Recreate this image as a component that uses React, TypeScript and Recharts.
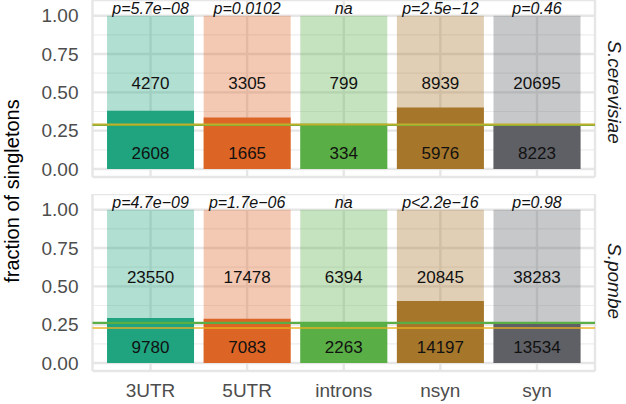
import React from 'react';
import {
  BarChart,
  Bar,
  Cell,
  XAxis,
  YAxis,
  CartesianGrid,
  ReferenceLine,
  LabelList,
} from 'recharts';

const categories = ['3UTR', '5UTR', 'introns', 'nsyn', 'syn'];
const darkColors = ['#1fa47f', '#dc6424', '#5aae46', '#a6762a', '#5f6065'];

// S.cerevisiae
const cerSingletons = [2608, 1665, 334, 5976, 8223];
const cerOthers = [4270, 3305, 799, 8939, 20695];
const cerFraction = [0.379, 0.335, 0.295, 0.401, 0.284];
const cerPvalues = ['p=5.7e\u221208', 'p=0.0102', 'na', 'p=2.5e\u221212', 'p=0.46'];

// S.pombe
const pomSingletons = [9780, 7083, 2263, 14197, 13534];
const pomOthers = [23550, 17478, 6394, 20845, 38283];
const pomFraction = [0.293, 0.288, 0.261, 0.405, 0.261];
const pomPvalues = ['p=4.7e\u221209', 'p=1.7e\u221206', 'na', 'p<2.2e\u221216', 'p=0.98'];

// horizontal reference levels [cerevisiae, pombe]
const greenLevels = [0.287, 0.262];
const goldLevels = [0.29, 0.228];

const yTicks = [0, 0.25, 0.5, 0.75, 1];
const minorTicks = [0.125, 0.375, 0.625, 0.875];

const makeRows = (single: number[], other: number[], frac: number[], p: string[]) =>
  categories.map((cat, i) => ({
    cat,
    single: single[i],
    other: other[i],
    frac: frac[i],
    full: 1,
    p: p[i],
  }));

const cerRows = makeRows(cerSingletons, cerOthers, cerFraction, cerPvalues);
const pomRows = makeRows(pomSingletons, pomOthers, pomFraction, pomPvalues);

// label centred at a given value inside the 0..1 bar
const levelLabel = (level: number) => (props: any) => {
  const vb = props.viewBox ?? props;
  const { x, y, width, height } = vb;
  return (
    <text
      x={x + width / 2}
      y={y + height * (1 - level)}
      textAnchor="middle"
      dominantBaseline="central"
      fontSize={17}
      fill="#111"
    >
      {props.value}
    </text>
  );
};

// p-value sitting just on top of the bar
const pLabel = (props: any) => {
  const vb = props.viewBox ?? props;
  const { x, y, width } = vb;
  return (
    <text
      x={x + width / 2}
      y={y - 1.5}
      textAnchor="middle"
      fontSize={16}
      fontStyle="italic"
      fill="#111"
    >
      {props.value}
    </text>
  );
};

interface PanelProps {
  rows: any[];
  green: number;
  gold: number;
  showX: boolean;
}

function Panel({ rows, green, gold, showX }: PanelProps) {
  return (
    <BarChart
      width={626}
      height={showX ? 207 : 190}
      data={rows}
      margin={{ top: 0, right: 31, bottom: showX ? 0 : 13, left: 0 }}
      barCategoryGap="5%"
    >
      <CartesianGrid
        xAxisId="a"
        vertical={false}
        horizontalValues={minorTicks}
        stroke="#eeeeee"
        strokeWidth={1.2}
      />
      <CartesianGrid xAxisId="a" stroke="#e6e6e6" strokeWidth={2.4} />
      <XAxis
        xAxisId="a"
        dataKey="cat"
        hide={!showX}
        axisLine={false}
        tickLine={false}
        tickMargin={7}
        height={30}
        padding={{ left: 9.7, right: 9.7 }}
        tick={{ fontSize: 19, fill: '#4d4d4d' }}
      />
      <XAxis xAxisId="b" dataKey="cat" hide padding={{ left: 9.7, right: 9.7 }} />
      <XAxis xAxisId="c" dataKey="cat" hide padding={{ left: 9.7, right: 9.7 }} />
      <YAxis
        type="number"
        domain={[-0.0525, 1.1025]}
        allowDataOverflow
        ticks={yTicks}
        interval={0}
        tickFormatter={(v: number) => v.toFixed(2)}
        axisLine={false}
        tickLine={false}
        tickMargin={8}
        width={92.5}
        tick={{ fontSize: 19, fill: '#4d4d4d' }}
      />
      <Bar xAxisId="a" dataKey="full" isAnimationActive={false}>
        {rows.map((r, i) => (
          <Cell key={r.cat} fill={darkColors[i]} fillOpacity={0.35} />
        ))}
      </Bar>
      <Bar xAxisId="b" dataKey="frac" isAnimationActive={false}>
        {rows.map((r, i) => (
          <Cell key={r.cat} fill={darkColors[i]} />
        ))}
      </Bar>
      <Bar xAxisId="c" dataKey="full" fill="none" fillOpacity={0} isAnimationActive={false}>
        <LabelList dataKey="other" content={levelLabel(0.555)} />
        <LabelList dataKey="single" content={levelLabel(0.1)} />
        <LabelList dataKey="p" content={pLabel} />
      </Bar>
      <ReferenceLine xAxisId="a" y={green} stroke="#5aae46" strokeWidth={2.2} />
      <ReferenceLine xAxisId="a" y={gold} stroke="#e8b020" strokeOpacity={0.7} strokeWidth={2.2} />
    </BarChart>
  );
}

export default function App() {
  return (
    <div
      style={{
        position: 'absolute',
        left: 0,
        top: 0,
        width: 626,
        height: 404,
        background: '#fff',
        fontFamily: '"Liberation Sans", Arial, sans-serif',
        overflow: 'hidden',
      }}
    >
      <div style={{ position: 'absolute', left: 0, top: 0 }}>
        <Panel rows={cerRows} green={greenLevels[0]} gold={goldLevels[0]} showX={false} />
      </div>
      <div style={{ position: 'absolute', left: 0, top: 194 }}>
        <Panel rows={pomRows} green={greenLevels[1]} gold={goldLevels[1]} showX />
      </div>
      <svg
        width={626}
        height={404}
        style={{ position: 'absolute', left: 0, top: 0, pointerEvents: 'none' }}
      >
        <text
          transform="translate(12,191) rotate(-90)"
          textAnchor="middle"
          dominantBaseline="central"
          fontSize={20}
          fill="#000"
        >
          fraction of singletons
        </text>
        <text
          transform="translate(614,92) rotate(90)"
          textAnchor="middle"
          dominantBaseline="central"
          fontSize={19}
          fontStyle="italic"
          fill="#1a1a1a"
        >
          S.cerevisiae
        </text>
        <text
          transform="translate(614,281) rotate(90)"
          textAnchor="middle"
          dominantBaseline="central"
          fontSize={19}
          fontStyle="italic"
          fill="#1a1a1a"
        >
          S.pombe
        </text>
      </svg>
    </div>
  );
}
